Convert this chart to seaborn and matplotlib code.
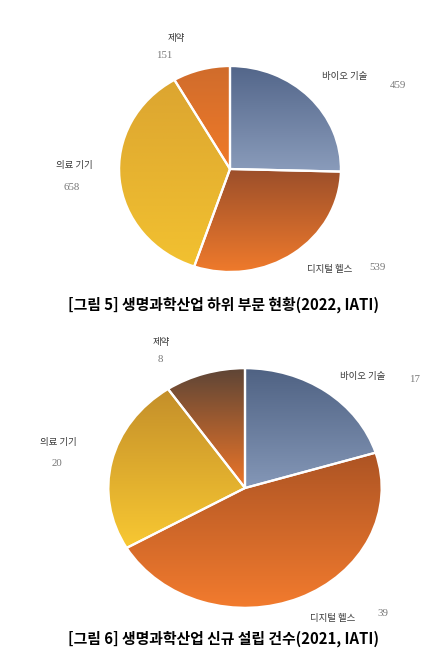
import numpy as np
import matplotlib
matplotlib.use("Agg")
import matplotlib.pyplot as plt
import matplotlib.colors as mcolors
import seaborn as sns

sns.set_theme(style="white")
plt.rcParams['font.family'] = ['Noto Sans CJK KR', 'DejaVu Sans']

# ---- data ----
categories = ["바이오 기술", "디지털 헬스", "의료 기기", "제약"]
values_2022 = [459, 539, 658, 151]
values_2021 = [17, 39, 20, 8]
title_2022 = "[그림 5] 생명과학산업 하위 부문 현황(2022, IATI)"
title_2021 = "[그림 6] 생명과학산업 신규 설립 건수(2021, IATI)"

# gradient colours (top, bottom) per wedge
grad_2022 = [("#53668a", "#8a9cbb"), ("#9c4f2a", "#ef7a2c"),
             ("#dca530", "#f2c130"), ("#d06c2c", "#f07a28")]
grad_2021 = [("#4f6283", "#8497b7"), ("#ad5424", "#f27b2e"),
             ("#c48f2a", "#f8c832"), ("#5e4536", "#ee7628")]

W, H = 435, 671
fig = plt.figure(figsize=(W / 100, H / 100), dpi=100)
fig.patch.set_facecolor("white")


def px_axes(cx, cy, rx, ry):
    return fig.add_axes([(cx - rx) / W, (H - cy - ry) / H, 2 * rx / W, 2 * ry / H])


def draw_pie(ax, vals, grads):
    wedges, _ = ax.pie(vals, startangle=90, counterclock=False,
                       colors=[g[1] for g in grads], radius=1,
                       wedgeprops=dict(linewidth=0))
    for w, (ctop, cbot) in zip(wedges, grads):
        bb = w.get_path().get_extents()
        c1 = np.array(mcolors.to_rgb(ctop))
        c2 = np.array(mcolors.to_rgb(cbot))
        t = np.linspace(0, 1, 128)[:, None, None]
        img = c1 * (1 - t) + c2 * t
        img = np.repeat(img, 4, axis=1)
        im = ax.imshow(img, extent=(bb.x0, bb.x1, bb.y0, bb.y1),
                       origin="upper", aspect="auto", zorder=2,
                       interpolation="bilinear")
        im.set_clip_path(w)
    ax.pie(vals, startangle=90, counterclock=False, radius=1,
           wedgeprops=dict(fill=False, edgecolor="white", linewidth=1.6, zorder=3))
    ax.set_xlim(-1.01, 1.01)
    ax.set_ylim(-1.01, 1.01)
    ax.set_aspect("auto")
    ax.axis("off")


ax1 = px_axes(230, 169, 112, 104)
draw_pie(ax1, values_2022, grad_2022)
ax2 = px_axes(245, 488, 138, 121)
draw_pie(ax2, values_2021, grad_2021)


def ftext(x, y, s, **kw):
    fig.text(x / W, 1 - y / H, s, ha="center", va="center", **kw)


lab_kw = dict(fontsize=6.8, color="#3a3a3a")
num_kw = dict(fontsize=7.8, color="#777777", family=["Liberation Serif"])

# pie 1 labels
lab1 = [(345, 77), (330, 269), (74, 165), (176, 38)]
num1 = [(398, 85), (378, 267), (72, 187), (164, 56)]
for c, v, lp, npos in zip(categories, values_2022, lab1, num1):
    ftext(*lp, c, **lab_kw)
    ftext(*npos, str(v), **num_kw)

# pie 2 labels
lab2 = [(363, 377), (333, 618), (58, 442), (161, 342)]
num2 = [(415, 380), (383, 613), (57, 464), (160, 360)]
for c, v, lp, npos in zip(categories, values_2021, lab2, num2):
    ftext(*lp, c, **lab_kw)
    ftext(*npos, str(v), **num_kw)

ftext(224, 305, title_2022, fontsize=10.7, fontweight="bold", color="black")
ftext(224, 639, title_2021, fontsize=10.7, fontweight="bold", color="black")

fig.savefig("out.png", dpi=100, facecolor="white")
